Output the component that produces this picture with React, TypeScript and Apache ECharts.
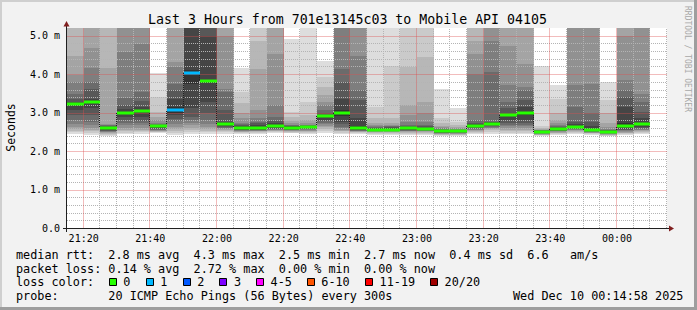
import React, { useEffect, useRef } from "react";
import * as echarts from "echarts";

// ---------------- data ----------------
const chartTitle = "Last 3 Hours from 701e13145c03 to Mobile API 04105";
const yAxisName = "Seconds";
const watermark = "RRDTOOL / TOBI OETIKER";

// end time of each 5-minute step (each bar covers the 5 minutes before it)
const barEndTimes = [
  "21:20", "21:25", "21:30", "21:35", "21:40", "21:45", "21:50", "21:55", "22:00",
  "22:05", "22:10", "22:15", "22:20", "22:25", "22:30", "22:35", "22:40", "22:45",
  "22:50", "22:55", "23:00", "23:05", "23:10", "23:15", "23:20", "23:25", "23:30",
  "23:35", "23:40", "23:45", "23:50", "23:55", "00:00", "00:05", "00:10",
];

// median rtt per step (ms)
const medians = [
  3.22, 3.27, 2.59, 2.98, 3.05, 2.64, 3.06, 4.04, 3.81,
  2.71, 2.6, 2.6, 2.65, 2.6, 2.62, 2.91, 2.98, 2.61,
  2.55, 2.55, 2.59, 2.57, 2.51, 2.52, 2.66, 2.71, 2.93,
  2.98, 2.5, 2.57, 2.63, 2.54, 2.49, 2.65, 2.7,
];

// index into the loss colour table per step
const lossClass = [
  0, 0, 0, 0, 0, 0, 1, 1, 0,
  0, 0, 0, 0, 0, 0, 0, 0, 0,
  0, 0, 0, 0, 0, 0, 0, 0, 0,
  0, 0, 0, 0, 0, 0, 0, 0,
];

// 20 sorted ping rtts per step (ms); values above the top of the chart are clipped
const pings = [
  [2.44, 2.49, 2.53, 2.58, 2.63, 2.71, 2.8, 2.93, 3.07, 3.2, 3.24, 3.28, 3.36, 3.49, 3.8, 3.97, 4.48, 5.6, 5.7, 5.8],
  [2.41, 2.46, 2.51, 2.56, 2.61, 2.68, 2.76, 2.93, 3.11, 3.25, 3.29, 3.36, 3.62, 3.8, 4.16, 4.68, 5.6, 5.6, 5.7, 5.8],
  [2.4, 2.43, 2.45, 2.47, 2.49, 2.5, 2.52, 2.53, 2.55, 2.57, 2.61, 2.63, 2.65, 2.67, 2.68, 2.7, 4.16, 5.6, 5.7, 5.8],
  [2.44, 2.47, 2.53, 2.56, 2.61, 2.68, 2.74, 2.8, 2.89, 2.97, 3.0, 3.09, 3.19, 3.38, 4.58, 5.6, 5.6, 5.7, 5.8, 5.9],
  [2.45, 2.49, 2.53, 2.56, 2.61, 2.68, 2.72, 2.78, 2.89, 3.03, 3.08, 3.15, 3.29, 3.54, 4.78, 5.6, 5.6, 5.7, 5.8, 5.9],
  [2.47, 2.49, 2.5, 2.52, 2.53, 2.55, 2.56, 2.58, 2.6, 2.62, 2.66, 2.68, 2.69, 2.7, 2.74, 2.8, 2.89, 3.02, 3.41, 4.02],
  [2.41, 2.47, 2.53, 2.58, 2.63, 2.71, 2.78, 2.84, 2.93, 3.0, 3.15, 3.36, 3.58, 3.75, 4.18, 4.31, 5.6, 5.7, 5.8, 5.9],
  [2.44, 2.49, 2.55, 2.61, 2.68, 2.74, 2.8, 2.89, 3.11, 3.75, 4.1, 5.5, 5.5, 5.6, 5.6, 5.7, 5.7, 5.8, 5.8, 5.9],
  [2.44, 2.49, 2.53, 2.58, 2.63, 2.71, 2.8, 2.98, 3.28, 3.77, 3.85, 5.0, 5.5, 5.6, 5.6, 5.7, 5.7, 5.8, 5.8, 5.9],
  [2.44, 2.49, 2.53, 2.55, 2.57, 2.59, 2.61, 2.63, 2.66, 2.69, 2.73, 2.76, 3.07, 3.54, 3.62, 5.0, 5.6, 5.7, 5.8, 5.9],
  [2.45, 2.47, 2.49, 2.5, 2.52, 2.53, 2.54, 2.55, 2.56, 2.58, 2.62, 2.65, 2.68, 2.7, 2.72, 2.85, 2.98, 3.24, 3.54, 4.16],
  [2.45, 2.47, 2.49, 2.51, 2.52, 2.53, 2.54, 2.55, 2.56, 2.57, 2.63, 2.69, 2.72, 2.76, 2.85, 3.07, 4.14, 4.87, 5.6, 5.7],
  [2.46, 2.49, 2.51, 2.53, 2.55, 2.56, 2.57, 2.58, 2.6, 2.62, 2.68, 2.72, 2.78, 2.89, 3.19, 4.53, 5.6, 5.7, 5.8, 5.9],
  [2.46, 2.48, 2.5, 2.52, 2.53, 2.54, 2.55, 2.56, 2.57, 2.58, 2.62, 2.64, 2.66, 2.67, 2.69, 2.72, 2.78, 2.89, 3.02, 4.91],
  [2.45, 2.47, 2.49, 2.51, 2.53, 2.55, 2.57, 2.58, 2.59, 2.61, 2.63, 2.65, 2.66, 2.67, 2.69, 2.72, 2.8, 2.93, 3.28, 5.6],
  [2.48, 2.53, 2.58, 2.62, 2.66, 2.7, 2.74, 2.78, 2.82, 2.89, 2.93, 2.95, 2.98, 3.07, 3.19, 3.28, 3.45, 3.67, 3.92, 4.35],
  [2.45, 2.48, 2.51, 2.53, 2.55, 2.6, 2.63, 2.7, 2.76, 2.9, 3.07, 3.36, 3.8, 4.14, 5.6, 5.6, 5.7, 5.7, 5.8, 5.9],
  [2.45, 2.47, 2.49, 2.5, 2.51, 2.52, 2.53, 2.54, 2.55, 2.57, 2.66, 2.85, 3.32, 3.58, 4.48, 5.6, 5.7, 5.7, 5.8, 5.9],
  [2.43, 2.45, 2.47, 2.49, 2.5, 2.51, 2.52, 2.53, 2.54, 2.55, 2.57, 2.59, 2.6, 2.62, 2.64, 2.67, 2.72, 2.85, 3.15, 5.6],
  [2.43, 2.45, 2.47, 2.49, 2.5, 2.51, 2.52, 2.53, 2.54, 2.55, 2.58, 2.6, 2.62, 2.64, 2.66, 2.69, 2.72, 2.85, 4.22, 5.6],
  [2.43, 2.45, 2.47, 2.49, 2.51, 2.52, 2.53, 2.55, 2.56, 2.57, 2.61, 2.63, 2.65, 2.68, 2.76, 2.93, 3.19, 4.18, 5.6, 5.7],
  [2.43, 2.45, 2.47, 2.49, 2.51, 2.52, 2.53, 2.54, 2.55, 2.56, 2.59, 2.61, 2.64, 2.68, 2.76, 2.98, 3.28, 4.44, 5.6, 5.7],
  [2.4, 2.42, 2.43, 2.44, 2.45, 2.46, 2.47, 2.48, 2.49, 2.5, 2.52, 2.54, 2.55, 2.57, 2.59, 2.62, 2.65, 2.72, 2.85, 3.62],
  [2.4, 2.42, 2.43, 2.44, 2.45, 2.47, 2.48, 2.49, 2.5, 2.51, 2.53, 2.54, 2.55, 2.56, 2.58, 2.6, 2.63, 2.68, 2.76, 3.11],
  [2.44, 2.47, 2.5, 2.52, 2.54, 2.56, 2.58, 2.6, 2.62, 2.64, 2.68, 2.71, 2.74, 2.8, 4.01, 4.53, 4.87, 5.6, 5.7, 5.8],
  [2.45, 2.5, 2.54, 2.57, 2.59, 2.61, 2.63, 2.65, 2.67, 2.69, 2.73, 2.75, 2.76, 4.05, 4.87, 5.6, 5.6, 5.7, 5.8, 5.9],
  [2.44, 2.48, 2.52, 2.56, 2.6, 2.64, 2.68, 2.74, 2.8, 2.9, 2.95, 3.0, 3.11, 3.28, 3.71, 4.74, 5.6, 5.7, 5.8, 5.9],
  [2.44, 2.48, 2.52, 2.56, 2.6, 2.64, 2.68, 2.74, 2.8, 2.93, 3.02, 3.15, 3.32, 3.58, 3.67, 4.27, 5.6, 5.7, 5.8, 5.9],
  [2.39, 2.41, 2.42, 2.43, 2.44, 2.45, 2.46, 2.47, 2.48, 2.49, 2.51, 2.52, 2.53, 2.54, 2.55, 2.56, 2.58, 2.61, 2.66, 4.22],
  [2.42, 2.44, 2.46, 2.48, 2.5, 2.51, 2.52, 2.53, 2.54, 2.55, 2.58, 2.6, 2.62, 2.64, 2.68, 2.72, 2.8, 2.98, 3.36, 3.71],
  [2.44, 2.47, 2.5, 2.52, 2.54, 2.56, 2.57, 2.58, 2.59, 2.61, 2.66, 2.7, 2.76, 3.15, 3.71, 5.6, 5.6, 5.7, 5.8, 5.9],
  [2.42, 2.44, 2.46, 2.47, 2.48, 2.49, 2.5, 2.51, 2.52, 2.53, 2.58, 2.66, 2.76, 2.98, 3.75, 5.6, 5.6, 5.7, 5.8, 5.9],
  [2.38, 2.4, 2.42, 2.43, 2.44, 2.45, 2.46, 2.47, 2.48, 2.48, 2.5, 2.52, 2.54, 2.56, 2.58, 2.62, 2.72, 2.98, 3.32, 3.8],
  [2.41, 2.44, 2.46, 2.48, 2.5, 2.52, 2.54, 2.56, 2.58, 2.62, 2.72, 3.15, 3.41, 3.58, 3.84, 5.0, 5.6, 5.7, 5.8, 5.9],
  [2.44, 2.47, 2.5, 2.52, 2.54, 2.56, 2.58, 2.6, 2.63, 2.67, 2.74, 2.85, 3.02, 3.28, 3.49, 5.6, 5.6, 5.7, 5.8, 5.9],
];

const xTickLabels = ["21:20", "21:40", "22:00", "22:20", "22:40", "23:00", "23:20", "23:40", "00:00"];
const yTickLabels = ["0.0", "1.0 m", "2.0 m", "3.0 m", "4.0 m", "5.0 m"];

// smoke shades, outermost pair of pings first
const smokeShades = [
  "#dddddd", "#cacaca", "#b7b7b7", "#a4a4a4", "#919191",
  "#7e7e7e", "#6b6b6b", "#585858", "#454545", "#323232",
];

const lossLabels = ["0", "1", "2", "3", "4-5", "6-10", "11-19", "20/20"];
const lossColors = ["#26ff00", "#00b8ff", "#0059ff", "#7e00ff", "#ff00ff", "#ff5500", "#ff0000", "#a00000"];

const legendRttLine = "median rtt:  2.8 ms avg  4.3 ms max  2.5 ms min  2.7 ms now  0.4 ms sd  6.6   am/s";
const legendLossLine = "packet loss: 0.14 % avg  2.72 % max  0.00 % min  0.00 % now";
const legendColorTitle = "loss color:";
const legendProbeLine = "probe:       20 ICMP Echo Pings (56 Bytes) every 300s";
const dateStamp = "Wed Dec 10 00:14:58 2025";

// ---------------- helpers ----------------
const START_MIN = 21 * 60 + 15;
const SPAN_MIN = 180;
const STEP = 5;
const Y_MAX = 5.2;
const Y_MINOR = 0.2;
const toMin = (t: string) => {
  const [h, m] = t.split(":").map(Number);
  let v = h * 60 + m;
  if (h < 12) v += 1440;
  return v - START_MIN;
};
const toLabel = (v: number) => {
  const m = Math.round(v + START_MIN) % 1440;
  const h = Math.floor(m / 60);
  const mm = m % 60;
  return `${String(h).padStart(2, "0")}:${String(mm).padStart(2, "0")}`;
};

const MONO = "'DejaVu Sans Mono', monospace";
const MINOR = "#b4b4b4";
const MAJOR = "rgba(222,79,79,0.38)";

export default function App() {
  const ref = useRef<HTMLDivElement>(null);

  useEffect(() => {
    if (!ref.current) return;
    const chart = echarts.init(ref.current, undefined, { renderer: "svg" });

    const seriesData = barEndTimes.map((t, i) => [toMin(t), medians[i]]);
    const majorX = xTickLabels.map(toMin);

    const smokeRender = (params: any, api: any) => {
      const i = params.dataIndex;
      const tEnd = api.value(0);
      const xa = Math.round(api.coord([tEnd - STEP, 0])[0]);
      const xb = Math.round(api.coord([tEnd, 0])[0]);
      const p = pings[i];
      const children: any[] = [];
      for (let k = 0; k < 10; k++) {
        const lo = Math.round(api.coord([tEnd, p[k]])[1]);
        const hi = Math.round(api.coord([tEnd, p[19 - k]])[1]);
        children.push({
          type: "rect",
          shape: { x: xa, y: hi, width: xb - xa, height: Math.max(lo - hi, 0) },
          style: { fill: smokeShades[k] },
        });
      }
      return { type: "group", children };
    };

    const medianRender = (params: any, api: any) => {
      const i = params.dataIndex;
      const tEnd = api.value(0);
      const xa = Math.round(api.coord([tEnd - STEP, 0])[0]);
      const xb = Math.round(api.coord([tEnd, 0])[0]);
      const ym = Math.round(api.coord([tEnd, api.value(1)])[1]);
      const children: any[] = [];
      if (i < medians.length - 1) {
        const yn = Math.round(api.coord([tEnd, medians[i + 1]])[1]);
        children.push({
          type: "line",
          shape: { x1: xb - 0.5, y1: ym, x2: xb - 0.5, y2: yn },
          style: { stroke: "#202020", lineWidth: 1, lineDash: [1, 1] },
        });
      }
      children.push({
        type: "rect",
        shape: { x: xa, y: ym - 1.5, width: xb - xa, height: 3 },
        style: { fill: lossColors[lossClass[i]] },
      });
      return { type: "group", children };
    };

    const swatchX = [108.7, 145.7, 182.7, 219.3, 256, 306.7, 365, 430];
    const legendGraphics: any[] = [];
    lossLabels.forEach((lab, i) => {
      legendGraphics.push({
        type: "rect",
        shape: { x: Math.round(swatchX[i]) + 0.5, y: 278.5, width: 7, height: 7 },
        style: { fill: lossColors[i], stroke: "#000", lineWidth: 1 },
        z: 100,
      });
      legendGraphics.push({
        type: "text",
        x: swatchX[i] + 14.6,
        y: 282,
        style: { text: lab, font: `11.8px ${MONO}`, fill: "#000", verticalAlign: "middle" },
        z: 100,
      });
    });

    const textAt = (text: string, x: number, y: number) => ({
      type: "text",
      x,
      y,
      z: 100,
      style: { text, font: `11.8px ${MONO}`, fill: "#000", verticalAlign: "middle" },
    });

    const baseGraphics: any[] = [
      // frame
      { type: "rect", shape: { x: 0, y: 0, width: 697, height: 2 }, style: { fill: "#cfcfcf" }, z: 100 },
      { type: "rect", shape: { x: 0, y: 0, width: 2, height: 310 }, style: { fill: "#cfcfcf" }, z: 100 },
      { type: "rect", shape: { x: 694, y: 0, width: 3, height: 310 }, style: { fill: "#9e9e9e" }, z: 100 },
      { type: "rect", shape: { x: 0, y: 307, width: 697, height: 3 }, style: { fill: "#9e9e9e" }, z: 100 },
      // title
      {
        type: "text",
        x: 347.5,
        y: 19.5,
        z: 100,
        style: { text: chartTitle, font: `13.25px ${MONO}`, fill: "#000", align: "center", verticalAlign: "middle" },
      },
      // y axis name
      {
        type: "text",
        x: 10.5,
        y: 127.5,
        rotation: Math.PI / 2,
        z: 100,
        style: { text: yAxisName, font: `11.5px ${MONO}`, fill: "#000", align: "center", verticalAlign: "middle" },
      },
      // watermark
      {
        type: "text",
        x: 687.5,
        y: 59,
        rotation: -Math.PI / 2,
        z: 100,
        style: { text: watermark, font: `8px ${MONO}`, fill: "#a8a8a8", align: "center", verticalAlign: "middle" },
      },
      // axes
      { type: "line", shape: { x1: 63, y1: 228.5, x2: 669, y2: 228.5 }, style: { stroke: "#1f1f1f", lineWidth: 1 }, z: 100 },
      { type: "line", shape: { x1: 66.5, y1: 232, x2: 66.5, y2: 26 }, style: { stroke: "#1f1f1f", lineWidth: 1 }, z: 100 },
      { type: "polygon", shape: { points: [[669, 225.5], [674, 228.5], [669, 231.5]] }, style: { fill: "#801f1f" }, z: 101 },
      { type: "polygon", shape: { points: [[63.5, 26.5], [66.5, 21], [69.5, 26.5]] }, style: { fill: "#801f1f" }, z: 101 },
      // legend
      textAt(legendRttLine, 16, 254.5),
      textAt(legendLossLine, 16, 268.5),
      textAt(legendColorTitle, 16, 282),
      ...legendGraphics,
      textAt(legendProbeLine, 16, 296),
      textAt(dateStamp, 513, 296),
    ];

    chart.setOption({
      animation: false,
      backgroundColor: "#f2f2f2",
      grid: {
        left: 67,
        top: 28,
        width: 600,
        height: 200,
        show: true,
        backgroundColor: "#ffffff",
        borderWidth: 0,
      },
      xAxis: {
        type: "value",
        min: 0,
        max: SPAN_MIN,
        interval: STEP,
        axisLine: { show: false },
        axisTick: { show: false },
        splitLine: { show: false },
        axisLabel: {
          margin: 5,
          color: "#000",
          fontFamily: MONO,
          fontSize: 10,
          formatter: (v: number) => {
            const s = toLabel(v);
            return xTickLabels.includes(s) && Math.abs(v - Math.round(v)) < 1e-6 ? s : "";
          },
        },
      },
      yAxis: {
        type: "value",
        min: 0,
        max: Y_MAX,
        interval: Y_MINOR,
        axisLine: { show: false },
        axisTick: { show: false },
        splitLine: { show: false },
        axisLabel: {
          margin: 7,
          color: "#000",
          fontFamily: MONO,
          fontSize: 10,
          showMaxLabel: false,
          formatter: (v: number) => {
            const r = Math.round(v);
            if (Math.abs(v - r) > 1e-6) return "";
            return yTickLabels[r] ?? "";
          },
        },
      },
      series: [
        {
          type: "custom",
          name: "smoke",
          z: 1,
          clip: true,
          renderItem: smokeRender,
          data: seriesData,
          encode: { x: 0, y: 1 },
          silent: true,
        },
        {
          type: "custom",
          name: "median",
          z: 5,
          clip: true,
          renderItem: medianRender,
          data: seriesData,
          encode: { x: 0, y: 1 },
          silent: true,
        },
      ],
      graphic: baseGraphics,
    });

    // grid lines, positioned through the chart's own scales
    const toPx = (x: number, y: number) => chart.convertToPixel({ gridIndex: 0 }, [x, y]) as number[];
    const [xL, yB] = toPx(0, 0);
    const [xR, yT] = toPx(SPAN_MIN, Y_MAX);
    const minorLines: any[] = [];
    const majorLines: any[] = [];
    for (let m = 0; m <= SPAN_MIN; m += STEP) {
      const x = Math.round(toPx(m, 0)[0]) - 0.5;
      const major = majorX.indexOf(m) >= 0;
      if (major) {
        majorLines.push({
          type: "line",
          z: 4,
          silent: true,
          shape: { x1: x, y1: yB, x2: x, y2: yT },
          style: { stroke: MAJOR, lineWidth: 1 },
        });
      } else {
        minorLines.push({
          type: "line",
          z: 3,
          silent: true,
          shape: { x1: x, y1: yB, x2: x, y2: yT },
          style: { stroke: MINOR, lineWidth: 1, lineDash: [1, 1] },
        });
      }
    }
    const nY = Math.round(5 / Y_MINOR);
    for (let k = 0; k <= nY; k++) {
      const y = Math.round(toPx(0, k * Y_MINOR)[1]) + 0.5;
      const major = k % 5 === 0;
      if (major) {
        majorLines.push({
          type: "line",
          z: 4,
          silent: true,
          shape: { x1: xL, y1: y, x2: xR, y2: y },
          style: { stroke: MAJOR, lineWidth: 1 },
        });
      } else {
        minorLines.push({
          type: "line",
          z: 3,
          silent: true,
          shape: { x1: xL, y1: y, x2: xR, y2: y },
          style: { stroke: MINOR, lineWidth: 1, lineDash: [1, 1] },
        });
      }
    }
    chart.setOption({ graphic: [...baseGraphics, ...minorLines, ...majorLines] });

    return () => chart.dispose();
  }, []);

  return (
    <div
      ref={ref}
      style={{ position: "fixed", left: 0, top: 0, width: 697, height: 310 }}
    />
  );
}
